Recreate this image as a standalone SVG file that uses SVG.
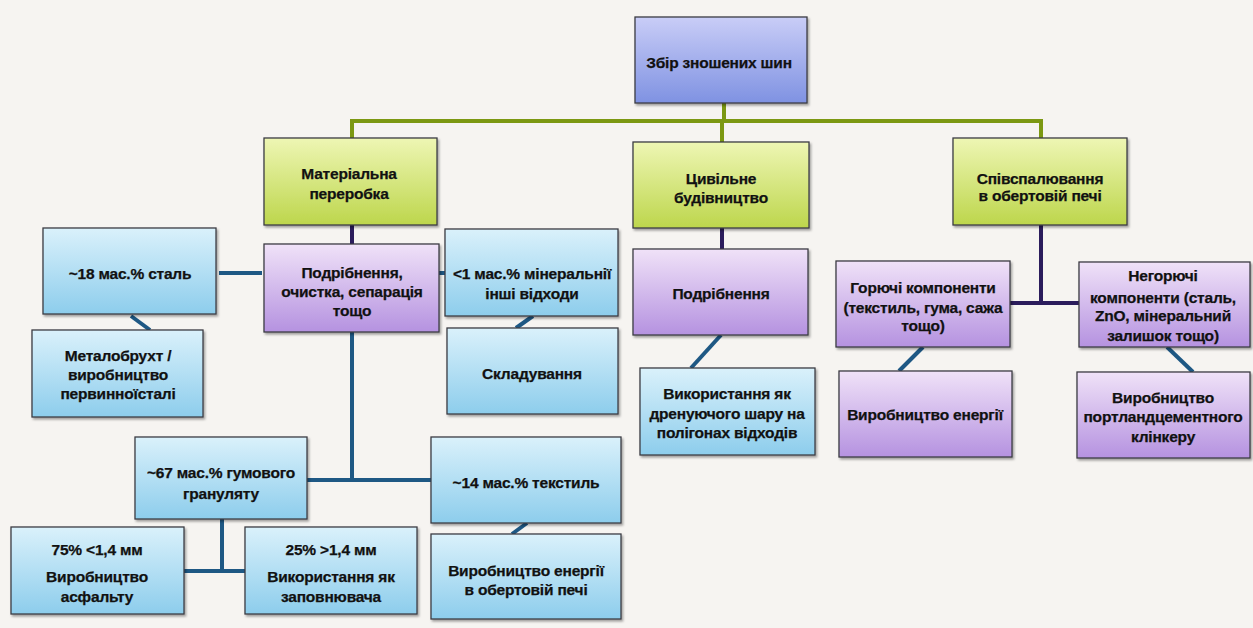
<svg xmlns="http://www.w3.org/2000/svg" width="1253" height="628" viewBox="0 0 1253 628">
<defs>
<linearGradient id="gBlue" x1="0" y1="0" x2="0" y2="1"><stop offset="0" stop-color="#c9cdf7"/><stop offset="1" stop-color="#7f92e2"/></linearGradient>
<linearGradient id="gGreen" x1="0" y1="0" x2="0" y2="1"><stop offset="0" stop-color="#eef6b4"/><stop offset="1" stop-color="#bdd64c"/></linearGradient>
<linearGradient id="gCyan" x1="0" y1="0" x2="0" y2="1"><stop offset="0" stop-color="#daf1fb"/><stop offset="1" stop-color="#8dcdec"/></linearGradient>
<linearGradient id="gPurple" x1="0" y1="0" x2="0" y2="1"><stop offset="0" stop-color="#f0e2f8"/><stop offset="1" stop-color="#b592e0"/></linearGradient>
<filter id="sh" x="-10%" y="-10%" width="125%" height="130%"><feDropShadow dx="1.5" dy="2" stdDeviation="1.2" flood-color="#000" flood-opacity="0.35"/></filter>
</defs>
<style>
.box{stroke:#3c3c44;stroke-width:1.3;filter:url(#sh)}
.top{fill:url(#gBlue)}
.grn{fill:url(#gGreen)}
.cyn{fill:url(#gCyan)}
.prp{fill:url(#gPurple)}
text{font-family:"Liberation Sans",Arial,sans-serif;font-weight:bold;font-size:15.5px;fill:#111;stroke:#111;stroke-width:0.25;text-anchor:middle;letter-spacing:-0.2px}
.lg line{stroke:#7c9812;stroke-width:4}
.lp line{stroke:#2b1c5c;stroke-width:4}
.lb line{stroke:#1e5884;stroke-width:4}
</style>
<rect width="1253" height="628" fill="#f6f4f1"/>
<g id="connectors">
<g class="lg">
<line x1="724" y1="103" x2="724" y2="121"/>
<line x1="350" y1="121" x2="1043" y2="121"/>
<line x1="352" y1="121" x2="352" y2="138"/>
<line x1="722" y1="121" x2="722" y2="142"/>
<line x1="1041" y1="121" x2="1041" y2="138"/>
</g>
<g class="lp">
<line x1="352" y1="225" x2="352" y2="244"/>
<line x1="722" y1="228" x2="722" y2="249"/>
<line x1="1041" y1="225" x2="1041" y2="303"/>
<line x1="1010" y1="303" x2="1079" y2="303"/>
</g>
<g class="lb">
<line x1="219" y1="273" x2="262" y2="273"/>
<line x1="439" y1="273" x2="445" y2="273"/>
<line x1="131" y1="316" x2="150" y2="330"/>
<line x1="533" y1="316" x2="516" y2="328"/>
<line x1="352" y1="332" x2="352" y2="482"/>
<line x1="307" y1="480" x2="431" y2="480"/>
<line x1="222" y1="519" x2="222" y2="573"/>
<line x1="184" y1="571" x2="245" y2="571"/>
<line x1="527" y1="523" x2="512" y2="534"/>
<line x1="721" y1="335" x2="691" y2="368"/>
<line x1="923" y1="347" x2="899" y2="371"/>
<line x1="1167" y1="347" x2="1193" y2="372"/>
</g>
</g>
<g id="n-zbir"><rect class="box top" x="635" y="17" width="172" height="86"/><text x="719" y="68">Збір зношених шин</text></g>
<g id="n-material"><rect class="box grn" x="264" y="138" width="173" height="87"/><text x="349" y="179">Матеріальна</text><text x="349" y="199">переробка</text></g>
<g id="n-civil"><rect class="box grn" x="633" y="142" width="176" height="86"/><text x="721" y="184">Цивільне</text><text x="721" y="203">будівництво</text></g>
<g id="n-cofire"><rect class="box grn" x="953" y="138" width="174" height="87"/><text x="1040" y="184">Співспалювання</text><text x="1040" y="201">в обертовій печі</text></g>
<g id="n-steel"><rect class="box cyn" x="43" y="228" width="173" height="86"/><text x="130" y="279">~18 мас.% сталь</text></g>
<g id="n-shred1"><rect class="box prp" x="264" y="244" width="175" height="88"/><text x="352" y="278">Подрібнення,</text><text x="352" y="297">очистка, сепарація</text><text x="352" y="316">тощо</text></g>
<g id="n-mineral"><rect class="box cyn" x="445" y="229" width="173" height="87"/><text x="532" y="279">&lt;1 мас.% мінеральнії</text><text x="532" y="299">інші відходи</text></g>
<g id="n-scrap"><rect class="box cyn" x="32" y="330" width="171" height="87"/><text x="118" y="361">Металобрухт /</text><text x="118" y="380">виробництво</text><text x="118" y="399">первинноїсталі</text></g>
<g id="n-storage"><rect class="box cyn" x="447" y="328" width="171" height="86"/><text x="532" y="379">Складування</text></g>
<g id="n-shred2"><rect class="box prp" x="633" y="249" width="175" height="86"/><text x="721" y="299">Подрібнення</text></g>
<g id="n-comb"><rect class="box prp" x="836" y="261" width="174" height="86"/><text x="923" y="293">Горючі компоненти</text><text x="923" y="313">(текстиль, гума, сажа</text><text x="923" y="331">тощо)</text></g>
<g id="n-noncomb"><rect class="box prp" x="1079" y="262" width="171" height="85"/><text x="1163" y="281">Негорючі</text><text x="1163" y="303">компоненти (сталь,</text><text x="1163" y="321">ZnO, мінеральний</text><text x="1163" y="341">залишок тощо)</text></g>
<g id="n-drain"><rect class="box cyn" x="640" y="368" width="175" height="87"/><text x="727" y="399">Використання як</text><text x="727" y="419">дренуючого шару на</text><text x="727" y="438">полігонах відходів</text></g>
<g id="n-energy"><rect class="box prp" x="839" y="371" width="173" height="86"/><text x="925" y="420">Виробництво енергії</text></g>
<g id="n-clinker"><rect class="box prp" x="1077" y="372" width="173" height="86"/><text x="1163" y="403">Виробництво</text><text x="1163" y="422">портландцементного</text><text x="1163" y="442">клінкеру</text></g>
<g id="n-rubber"><rect class="box cyn" x="135" y="437" width="172" height="82"/><text x="221" y="478">~67 мас.% гумового</text><text x="221" y="499">грануляту</text></g>
<g id="n-textile"><rect class="box cyn" x="431" y="437" width="190" height="86"/><text x="526" y="488">~14 мас.% текстиль</text></g>
<g id="n-asphalt"><rect class="box cyn" x="11" y="527" width="173" height="87"/><text x="97" y="555">75% &lt;1,4 мм</text><text x="97" y="582">Виробництво</text><text x="97" y="602">асфальту</text></g>
<g id="n-filler"><rect class="box cyn" x="245" y="527" width="172" height="87"/><text x="331" y="555">25% &gt;1,4 мм</text><text x="331" y="582">Використання як</text><text x="331" y="602">заповнювача</text></g>
<g id="n-kiln"><rect class="box cyn" x="431" y="534" width="190" height="85"/><text x="526" y="576">Виробництво енергії</text><text x="526" y="595">в обертовій печі</text></g>
</svg>
